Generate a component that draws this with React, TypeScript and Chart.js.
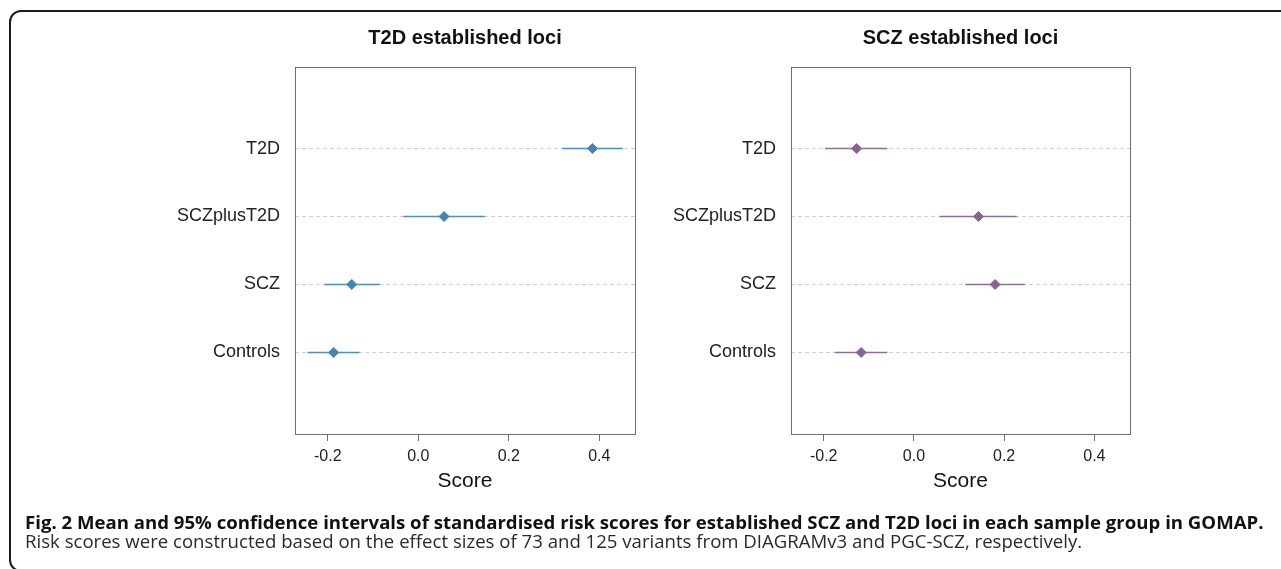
import React, { useEffect, useRef } from 'react';
import { Chart, registerables } from 'chart.js';

Chart.register(...registerables);

const groups = ['Controls', 'SCZ', 'SCZplusT2D', 'T2D'];
const groupPos = [1, 2, 3, 4];
const xTicks = [-0.2, 0.0, 0.2, 0.4];
const xMin = -0.2725;
const xMax = 0.479;

const t2dMean = [-0.187, -0.147, 0.057, 0.385];
const t2dLow = [-0.245, -0.208, -0.033, 0.318];
const t2dHigh = [-0.13, -0.085, 0.147, 0.452];

const sczMean = [-0.117, 0.18, 0.143, -0.127];
const sczLow = [-0.175, 0.114, 0.057, -0.197];
const sczHigh = [-0.059, 0.246, 0.228, -0.059];

const FONT = '"Liberation Sans", Arial, Helvetica, sans-serif';

type ForestProps = {
  title: string;
  mean: number[];
  low: number[];
  high: number[];
  color: string;
  lineColor: string;
  left: number;
  width: number;
  yWidth: number;
  plotWidth: number;
};

function Forest(p: ForestProps) {
  const ref = useRef<HTMLCanvasElement>(null);
  useEffect(() => {
    if (!ref.current) return;
    const frame = {
      id: 'frame',
      afterDraw(chart: any) {
        const { ctx, chartArea: a } = chart;
        ctx.save();
        ctx.strokeStyle = '#6e6e6e';
        ctx.lineWidth = 1;
        ctx.strokeRect(
          Math.round(a.left) + 0.5,
          Math.round(a.top) + 0.5,
          Math.round(a.right - a.left),
          Math.round(a.bottom - a.top)
        );
        ctx.restore();
      },
    };
    const ciSets = groupPos.map((y, i) => ({
      type: 'line' as const,
      data: [
        { x: p.low[i], y },
        { x: p.high[i], y },
      ],
      borderColor: p.lineColor,
      borderWidth: 1.6,
      pointRadius: 0,
      order: 2,
    }));
    const chart = new Chart(ref.current, {
      type: 'scatter',
      data: {
        datasets: [
          {
            type: 'scatter',
            data: groupPos.map((y, i) => ({ x: p.mean[i], y })),
            pointStyle: 'rectRot',
            pointRadius: 5,
            backgroundColor: p.color,
            borderColor: p.color,
            borderWidth: 1,
            order: 1,
          } as any,
          ...(ciSets as any[]),
        ],
      },
      options: {
        animation: false,
        responsive: false,
        layout: {
          padding: { left: 0, right: p.width - p.yWidth - p.plotWidth, top: 0, bottom: 0 },
        },
        plugins: {
          legend: { display: false },
          tooltip: { enabled: false },
          title: {
            display: true,
            text: p.title,
            fullSize: false,
            color: '#111',
            font: { family: FONT, size: 20, weight: 'bold' },
            padding: { top: 14, bottom: 17 },
          },
        },
        scales: {
          x: {
            type: 'linear',
            min: xMin,
            max: xMax,
            afterBuildTicks: (s: any) => {
              s.ticks = xTicks.map((v) => ({ value: v }));
            },
            afterFit: (s: any) => {
              s.height = 78;
            },
            ticks: {
              callback: (v: any) => Number(v).toFixed(1),
              font: { family: FONT, size: 16 },
              color: '#222',
              padding: 6,
              maxRotation: 0,
              autoSkip: false,
            },
            grid: {
              drawOnChartArea: false,
              drawTicks: true,
              tickLength: 7,
              color: '#6e6e6e',
              tickColor: '#6e6e6e',
            },
            border: { display: false },
            title: {
              display: true,
              text: 'Score',
              color: '#111',
              font: { family: FONT, size: 21 },
              padding: { top: 0, bottom: 18 },
            },
          },
          y: {
            type: 'linear',
            min: -0.2,
            max: 5.2,
            afterBuildTicks: (s: any) => {
              s.ticks = groupPos.map((v) => ({ value: v }));
            },
            afterFit: (s: any) => {
              s.width = p.yWidth;
            },
            ticks: {
              callback: (v: any) => groups[groupPos.indexOf(Number(v))],
              font: { family: FONT, size: 18 },
              color: '#222',
              padding: 15,
              autoSkip: false,
            },
            grid: {
              drawTicks: false,
              color: '#cfcfcf',
              lineWidth: 1,
            },
            border: { display: false, dash: [4, 3] },
          },
        },
      } as any,
      plugins: [frame],
    });
    return () => chart.destroy();
  }, []);
  return (
    <canvas
      ref={ref}
      width={p.width}
      height={500}
      style={{ position: 'absolute', left: p.left, top: 12, width: p.width, height: 500 }}
    />
  );
}

export default function App() {
  return (
    <div
      style={{
        position: 'absolute',
        left: 0,
        top: 0,
        width: 1281,
        height: 569,
        overflow: 'hidden',
        background: '#fff',
      }}
    >
      <div
        style={{
          position: 'absolute',
          left: 9,
          top: 10,
          width: 1320,
          height: 558,
          border: '2px solid #1c1c1c',
          borderRadius: 12,
        }}
      />
      <Forest
        title="T2D established loci"
        mean={t2dMean}
        low={t2dLow}
        high={t2dHigh}
        color="#4682b4"
        lineColor="#4f8cc0"
        left={100}
        width={560}
        yWidth={195}
        plotWidth={340}
      />
      <Forest
        title="SCZ established loci"
        mean={sczMean}
        low={sczLow}
        high={sczHigh}
        color="#876390"
        lineColor="#8f6c98"
        left={650}
        width={500}
        yWidth={141}
        plotWidth={339}
      />
      <div
        style={{
          position: 'absolute',
          left: 25,
          top: 511,
          fontFamily: '"Open Sans", sans-serif',
          fontWeight: 700,
          fontSize: 18.6,
          lineHeight: '22px',
          color: '#111',
          whiteSpace: 'nowrap',
        }}
      >
        Fig. 2 Mean and 95% confidence intervals of standardised risk scores for established SCZ and T2D loci in each sample group in GOMAP.
      </div>
      <div
        style={{
          position: 'absolute',
          left: 25,
          top: 530,
          fontFamily: '"Open Sans", sans-serif',
          fontWeight: 400,
          fontSize: 18.6,
          lineHeight: '22px',
          color: '#2a2a2a',
          whiteSpace: 'nowrap',
        }}
      >
        Risk scores were constructed based on the effect sizes of 73 and 125 variants from DIAGRAMv3 and PGC-SCZ, respectively.
      </div>
    </div>
  );
}
